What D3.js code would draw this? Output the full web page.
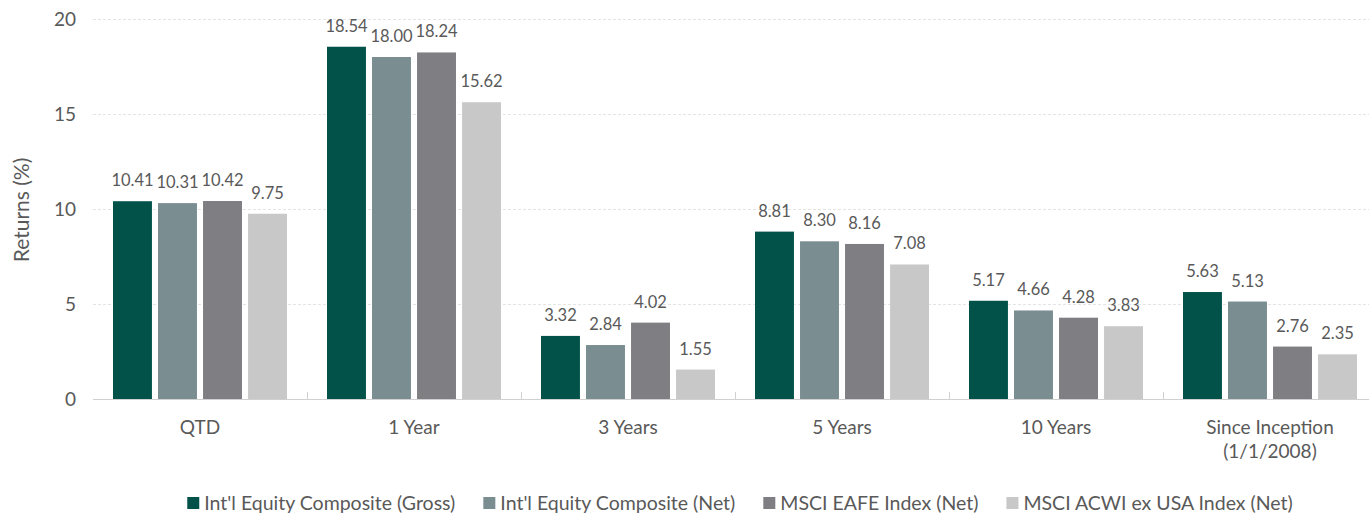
<!DOCTYPE html>
<html>
<head>
<meta charset="utf-8">
<script src="https://cdn.jsdelivr.net/npm/d3@7"></script>
<style>
  body { margin: 0; background: #fff; }
  svg text { font-family: Lato, "Open Sans", sans-serif; fill: #595959; }
</style>
</head>
<body>
<svg id="wykres"></svg>
<script>
// dane wykresu
const kategorie = ["QTD", "1 Year", "3 Years", "5 Years", "10 Years", "Since Inception|(1/1/2008)"];
const serie = ["Int'l Equity Composite (Gross)", "Int'l Equity Composite (Net)", "MSCI EAFE Index (Net)", "MSCI ACWI ex USA Index (Net)"];
const gross = [10.41, 18.54, 3.32, 8.81, 5.17, 5.63];
const net = [10.31, 18.00, 2.84, 8.30, 4.66, 5.13];
const eafe = [10.42, 18.24, 4.02, 8.16, 4.28, 2.76];
const acwi = [9.75, 15.62, 1.55, 7.08, 3.83, 2.35];
const yTicks = [0, 5, 10, 15, 20];
const kolory = ["#03524a", "#7a8e92", "#7f7e83", "#c8c8c8"];

const wartosci = [gross, net, eafe, acwi];

const W = 1369, H = 513;
let svg = d3.select('#wykres').attr('width', W).attr('height', H);

let x = d3.scaleBand()
  .domain(kategorie)
  .range([93, 1377]);

let x1 = d3.scaleBand()
  .domain(serie)
  .range([20, x.bandwidth() - 20])
  .paddingInner(0.135);

let y = d3.scaleLinear()
  .domain([0, 20])
  .range([399, 19]);

// siatka
svg.append('g')
  .selectAll('line')
  .data(yTicks.filter(d => d > 0))
  .join('line')
  .attr('x1', 93).attr('x2', W)
  .attr('y1', d => y(d) + 0.5).attr('y2', d => y(d) + 0.5)
  .attr('stroke', '#e4e4e4')
  .attr('stroke-dasharray', '3,2');

// oś Y - etykiety
let yAxis = d3.axisLeft(y).tickValues(yTicks).tickSize(0).tickPadding(0);
let gy = svg.append('g').attr('transform', 'translate(76,0)').call(yAxis);
gy.select('.domain').remove();
gy.selectAll('text').style('font-size', '19px').attr('dy', '0.35em');

svg.append('text')
  .attr('transform', 'translate(29,210) rotate(-90)')
  .attr('text-anchor', 'middle')
  .style('font-size', '21px')
  .text('Returns (%)');

// słupki
let grupy = svg.append('g')
  .selectAll('g')
  .data(kategorie)
  .join('g')
  .attr('transform', d => `translate(${x(d)},0)`);

grupy.selectAll('rect')
  .data((d, i) => serie.map((s, j) => ({ s: s, v: wartosci[j][i], j: j })))
  .join('rect')
  .attr('x', d => x1(d.s))
  .attr('width', x1.bandwidth())
  .attr('y', d => y(d.v))
  .attr('height', d => y(0) - y(d.v))
  .attr('fill', d => kolory[d.j]);

grupy.selectAll('text.lab')
  .data((d, i) => serie.map((s, j) => ({ s: s, v: wartosci[j][i], j: j })))
  .join('text')
  .attr('class', 'lab')
  .attr('x', d => x1(d.s) + x1.bandwidth() / 2)
  .attr('y', d => y(d.v) - 15)
  .attr('text-anchor', 'middle')
  .style('font-size', '16.5px')
  .text(d => d.v.toFixed(2));

// oś X
let xAxis = d3.axisBottom(x).tickSize(0).tickPadding(0).tickFormat('');
let gx = svg.append('g').attr('transform', 'translate(0,399)').call(xAxis);
gx.select('.domain').attr('stroke', '#d0d0d0').attr('d', `M93,0.5H${W}`);

svg.append('g')
  .selectAll('line')
  .data(kategorie.slice(1))
  .join('line')
  .attr('x1', d => x(d) + 0.5).attr('x2', d => x(d) + 0.5)
  .attr('y1', 392).attr('y2', 399)
  .attr('stroke', '#d0d0d0');

svg.append('g')
  .selectAll('text')
  .data(kategorie)
  .join('text')
  .attr('x', d => x(d) + x.bandwidth() / 2)
  .attr('y', 434)
  .attr('text-anchor', 'middle')
  .style('font-size', '19px')
  .each(function(d) {
    d.split('|').forEach((linia, k) => {
      d3.select(this).append('tspan')
        .attr('x', x(d) + x.bandwidth() / 2)
        .attr('dy', k === 0 ? 0 : 24)
        .text(linia);
    });
  });

// legenda
let leg = svg.append('g');
let pos = 0;
serie.forEach((s, j) => {
  let it = leg.append('g').attr('transform', `translate(${pos},0)`);
  it.append('rect').attr('x', 0).attr('y', 497).attr('width', 12).attr('height', 12).attr('fill', kolory[j]);
  let t = it.append('text').attr('x', 17).attr('y', 510).style('font-size', '19.5px').text(s);
  pos += 17 + t.node().getComputedTextLength() + 28;
});
pos -= 28;
leg.attr('transform', `translate(${740 - pos / 2},0)`);
</script>
</body>
</html>
